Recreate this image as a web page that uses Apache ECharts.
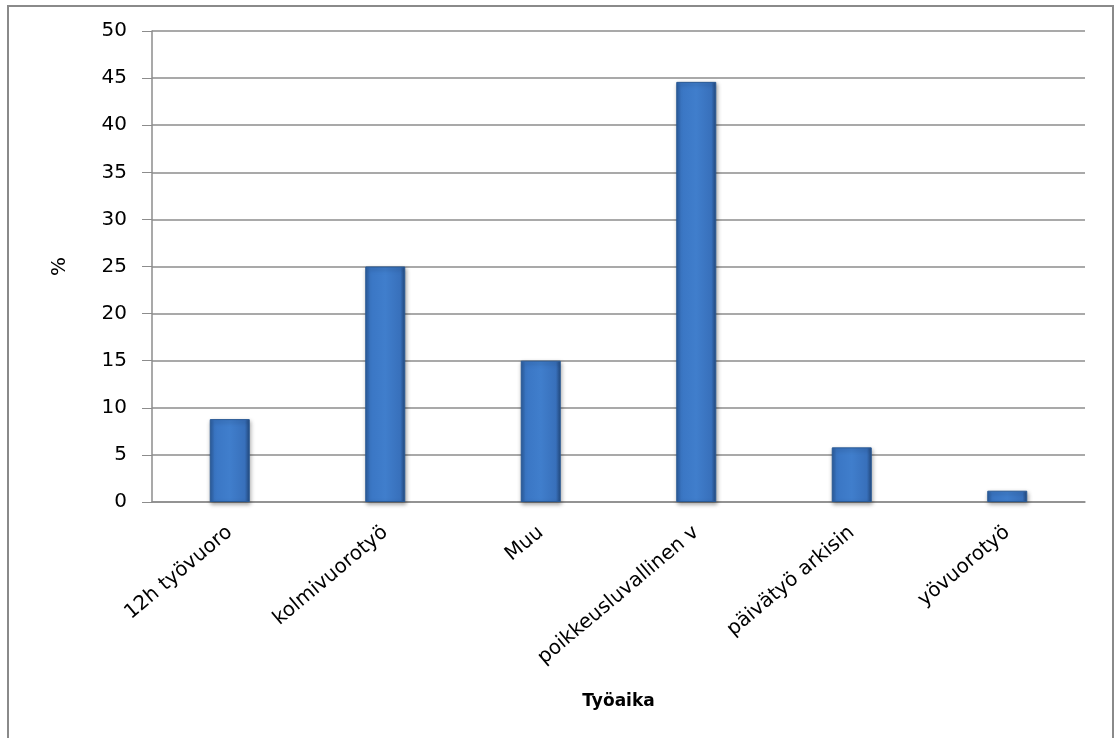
<!DOCTYPE html>
<html>
<head>
<meta charset="utf-8">
<script src="https://cdn.jsdelivr.net/npm/echarts@6/dist/echarts.min.js"></script>
<style>
html,body{margin:0;padding:0;background:#fff;}
#c{width:1114px;height:738px;}
</style>
</head>
<body>
<div id="c"></div>
<script>
const categories = ['12h työvuoro', 'kolmivuorotyö', 'Muu', 'poikkeusluvallinen v', 'päivätyö arkisin', 'yövuorotyö'];
const values = [8.8, 25.0, 15.0, 44.6, 5.8, 1.2];
const yTicks = [0, 5, 10, 15, 20, 25, 30, 35, 40, 45, 50];

const chart = echarts.init(document.getElementById('c'));
const font = 'DejaVu Sans';
chart.setOption({
  animation: false,
  backgroundColor: '#ffffff',
  graphic: [{
    type: 'rect',
    shape: { x: 8, y: 6, width: 1105, height: 760 },
    style: { fill: 'none', stroke: '#8a8a8a', lineWidth: 2 },
    silent: true
  }],
  grid: { left: 152, right: 29, top: 31, bottom: 236 },
  xAxis: {
    type: 'category',
    data: categories,
    name: 'Työaika',
    nameLocation: 'middle',
    nameGap: 191,
    nameTextStyle: { fontFamily: font, fontSize: 17, fontWeight: 'bold', color: '#000' },
    axisLine: { lineStyle: { color: '#8c8c8c', width: 1.5 } },
    axisTick: { show: false },
    axisLabel: { rotate: 40, interval: 0, margin: 28, fontFamily: font, fontSize: 20, color: '#000' }
  },
  yAxis: {
    type: 'value',
    min: 0, max: 50, interval: 5,
    name: '%',
    nameLocation: 'middle',
    nameGap: 82,
    nameRotate: 90,
    nameTextStyle: { fontFamily: font, fontSize: 20, color: '#000' },
    axisLine: { show: true, lineStyle: { color: '#8c8c8c', width: 1.5 } },
    axisTick: { show: true, inside: false, length: 10, lineStyle: { color: '#8c8c8c' } },
    axisLabel: {
      margin: 25, fontFamily: font, fontSize: 20, color: '#000',
      formatter: v => yTicks.includes(v) ? String(v) : ''
    },
    splitLine: { lineStyle: { color: '#8c8c8c', width: 1.5 } }
  },
  series: [{
    type: 'bar',
    data: values,
    barWidth: 40,
    itemStyle: {
      color: new echarts.graphic.LinearGradient(0, 0, 1, 0, [
        { offset: 0, color: '#2c5d9e' },
        { offset: 0.12, color: '#3a76c4' },
        { offset: 0.5, color: '#407ecc' },
        { offset: 0.88, color: '#3870bb' },
        { offset: 1, color: '#23497e' }
      ]),
      borderColor: '#2a5a95',
      borderWidth: 1,
      shadowColor: 'rgba(0,0,0,0.35)',
      shadowBlur: 4,
      shadowOffsetX: 1,
      shadowOffsetY: 2
    }
  }]
});
</script>
</body>
</html>
